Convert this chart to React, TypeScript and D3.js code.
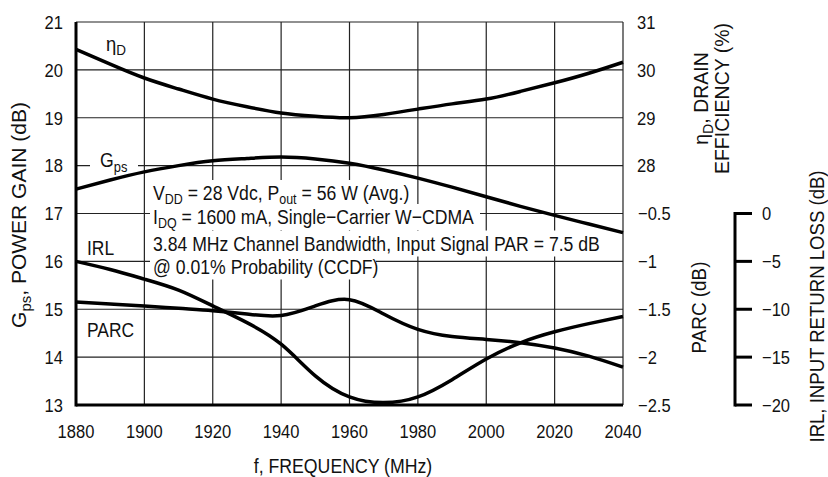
import * as d3 from 'd3';
import type { ReactNode } from 'react';

// frequency grid (MHz)
const freq = [1880, 1890, 1900, 1910, 1920, 1930, 1940, 1950, 1960, 1970, 1980, 1990, 2000, 2010, 2020, 2030, 2040];
const gps = [17.51, 17.7, 17.87, 18.0, 18.1, 18.15, 18.18, 18.14, 18.05, 17.91, 17.74, 17.55, 17.35, 17.15, 16.96, 16.78, 16.6];
const effD = [30.43, 30.12, 29.83, 29.6, 29.39, 29.23, 29.1, 29.03, 29.0, 29.07, 29.18, 29.29, 29.39, 29.55, 29.73, 29.93, 30.16];
const irl = [-5.0, -5.85, -6.85, -8.0, -9.65, -11.4, -13.65, -16.95, -19.15, -19.75, -19.15, -17.35, -15.2, -13.5, -12.35, -11.5, -10.75];
const parc = [-1.425, -1.445, -1.465, -1.49, -1.515, -1.55, -1.565, -1.465, -1.4, -1.55, -1.71, -1.785, -1.815, -1.85, -1.905, -1.99, -2.105];

const xTicks = [1880, 1900, 1920, 1940, 1960, 1980, 2000, 2020, 2040];
const gpsTicks = [13, 14, 15, 16, 17, 18, 19, 20, 21];
const effTicks = [28, 29, 30, 31];
const parcTicks = [-2.5, -2, -1.5, -1, -0.5];
const irlTicks = [0, -5, -10, -15, -20];

const W = 828;
const H = 477;
const L = 76, R = 623, T = 22, B = 405;
const FONT = '"Liberation Sans", Arial, Helvetica, sans-serif';
const minus = (v: number) => (v < 0 ? '\u2212' + String(-v) : String(v));

// text squeezed horizontally to mimic the condensed face of the original
function Txt(props: { x: number; y: number; size: number; sx?: number; rot?: number; anchor?: string; children: ReactNode }) {
  const { x, y, size, sx = 0.86, rot = 0, anchor = 'start', children } = props;
  return (
    <text transform={`translate(${x},${y}) rotate(${rot}) scale(${sx},1)`} fontSize={size} textAnchor={anchor}>
      {children}
    </text>
  );
}

export default function App() {
  const x = d3.scaleLinear().domain([1880, 2040]).range([L, R]);
  const yG = d3.scaleLinear().domain([13, 21]).range([B, T]);
  const yEff = d3.scaleLinear().domain([23, 31]).range([B, T]);
  const yParc = d3.scaleLinear().domain([-2.5, 1.5]).range([B, T]);
  const yIrl = d3.scaleLinear().domain([-20, 20]).range([B, T]);

  const mk = (ys: number[], sc: (v: number) => number) =>
    d3.line<number>().x((_, i) => x(freq[i])).y(d => sc(d)).curve(d3.curveNatural)(ys) || '';

  const gpsPath = mk(gps, yG);
  const effPath = mk(effD, yEff);
  const irlPath = mk(irl, yIrl);
  const parcPath = mk(parc, yParc);

  const irlAxisX = 735;
  const noteX = 153;
  const note = [
    { y: 200, w: 264 },
    { y: 224, w: 330 },
    { y: 250.5, w: 452 },
    { y: 273.5, w: 226 },
  ];

  return (
    <svg width={W} height={H} style={{ position: 'absolute', left: 0, top: 0, background: '#fff' }}
      fontFamily={FONT} fill="#111">
      {/* grid */}
      <g stroke="#222" strokeWidth={1.2}>
        {xTicks.map(t => <line key={'vx' + t} x1={x(t)} x2={x(t)} y1={T} y2={B} />)}
        {gpsTicks.map(t => <line key={'hy' + t} x1={L} x2={R} y1={yG(t)} y2={yG(t)} />)}
      </g>
      {/* white boxes behind annotation + curve labels */}
      <g fill="#fff">
        {note.map((n, i) => <rect key={'nb' + i} x={noteX - 3} y={n.y - 20} width={n.w} height={26} />)}
        <rect x={90} y={150} width={48} height={26} />
        <rect x={84} y={237} width={34} height={22} />
      </g>
      {/* frame */}
      <line x1={L} x2={L} y1={T} y2={B + 1.5} stroke="#000" strokeWidth={3} />
      <line x1={L} x2={R} y1={B} y2={B} stroke="#000" strokeWidth={3} />

      {/* curves */}
      <g fill="none" stroke="#000" strokeWidth={3.5} strokeLinejoin="round">
        <path d={effPath} />
        <path d={gpsPath} />
        <path d={irlPath} />
        <path d={parcPath} />
      </g>

      {/* left ticks */}
      {gpsTicks.map(t => <Txt key={'gl' + t} x={63} y={yG(t) + 6.8} size={19} sx={0.87} anchor="end">{t}</Txt>)}
      {/* right ticks */}
      {effTicks.map(t => <Txt key={'el' + t} x={637} y={yEff(t) + 6.8} size={19} sx={0.87}>{t}</Txt>)}
      {parcTicks.map(t => <Txt key={'pl' + t} x={638} y={yParc(t) + 6.8} size={19} sx={0.87}>{minus(t)}</Txt>)}
      {/* bottom ticks */}
      {xTicks.map(t => <Txt key={'xl' + t} x={x(t)} y={438} size={19} sx={0.87} anchor="middle">{t}</Txt>)}

      {/* IRL separate axis */}
      <g stroke="#000" strokeWidth={3}>
        <line x1={irlAxisX} x2={irlAxisX} y1={yIrl(0) - 1.5} y2={yIrl(-20) + 1.5} />
        {irlTicks.map(t => <line key={'it' + t} x1={irlAxisX} x2={irlAxisX + 17} y1={yIrl(t)} y2={yIrl(t)} />)}
      </g>
      {irlTicks.map(t => <Txt key={'il' + t} x={762} y={yIrl(t) + 6.8} size={19} sx={0.87}>{minus(t)}</Txt>)}

      {/* axis titles */}
      <Txt x={343} y={473} size={21} sx={0.843} anchor="middle">f, FREQUENCY (MHz)</Txt>
      <Txt x={26} y={215} size={21} sx={1} rot={-90} anchor="middle">
        G<tspan fontSize={15} dy={5}>ps</tspan><tspan dy={-5}>, POWER GAIN (dB)</tspan>
      </Txt>
      <Txt x={708} y={98.5} size={20.5} sx={0.95} rot={-90} anchor="middle">
        η<tspan fontSize={15} dy={5}>D</tspan><tspan dy={-5}>, DRAIN</tspan>
      </Txt>
      <Txt x={729} y={98.5} size={20.5} sx={0.95} rot={-90} anchor="middle">EFFICIENCY (%)</Txt>
      <Txt x={706} y={307.5} size={21} sx={0.9} rot={-90} anchor="middle">PARC (dB)</Txt>
      <Txt x={824} y={306.5} size={21} sx={0.885} rot={-90} anchor="middle">IRL, INPUT RETURN LOSS (dB)</Txt>

      {/* curve labels */}
      <Txt x={106} y={51} size={20.5} sx={0.9}>η<tspan fontSize={15} dy={4}>D</tspan></Txt>
      <Txt x={100} y={167} size={20.5} sx={0.86}>G<tspan fontSize={15} dy={5}>ps</tspan></Txt>
      <Txt x={87} y={255} size={20.5} sx={0.85}>IRL</Txt>
      <Txt x={87} y={337} size={20.5} sx={0.85}>PARC</Txt>

      {/* annotation */}
      <Txt x={noteX} y={note[0].y} size={20.5}>
        V<tspan fontSize={14.5} dy={4}>DD</tspan><tspan dy={-4}> = 28 Vdc, P</tspan>
        <tspan fontSize={14.5} dy={4}>out</tspan><tspan dy={-4}> = 56 W (Avg.)</tspan>
      </Txt>
      <Txt x={noteX} y={note[1].y} size={20.5}>
        I<tspan fontSize={14.5} dy={4}>DQ</tspan><tspan dy={-4}> = 1600 mA, Single{'\u2212'}Carrier W{'\u2212'}CDMA</tspan>
      </Txt>
      <Txt x={noteX} y={note[2].y} size={20.5}>3.84 MHz Channel Bandwidth, Input Signal PAR = 7.5 dB</Txt>
      <Txt x={noteX} y={note[3].y} size={20.5}>@ 0.01% Probability (CCDF)</Txt>
    </svg>
  );
}
